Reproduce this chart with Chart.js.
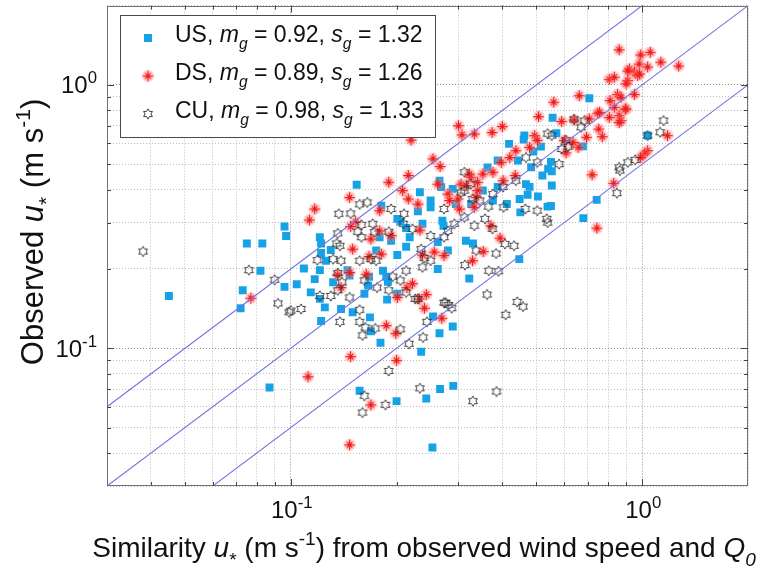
<!DOCTYPE html>
<html><head><meta charset="utf-8">
<script src="https://cdn.jsdelivr.net/npm/chart.js@4/dist/chart.umd.min.js"></script>
<style>html,body{margin:0;padding:0;background:#fff}</style>
</head><body>
<canvas id="c" width="764" height="571"></canvas>
<script>
// ---------------- data ----------------
const xRange = [0.03, 2];
const yRange = [0.03, 2];
const gridValues = [0.03,0.04,0.05,0.06,0.07,0.08,0.09,0.1,0.2,0.3,0.4,0.5,0.6,0.7,0.8,0.9,1,2];
const decadeLabels = {'-1': ['10', '-1'], '0': ['10', '0']};
const refFactors = [2, 1, 0.5];
const legendEntries = [
  {name: 'US', m: '0.92', s: '1.32'},
  {name: 'DS', m: '0.89', s: '1.26'},
  {name: 'CU', m: '0.98', s: '1.33'}
];
const usData = [
[0.045,0.158],[0.075,0.25],[0.083,0.25],[0.096,0.29],[0.097,0.267],[0.082,0.197],[0.096,0.171],[0.073,0.166],
[0.072,0.142],[0.125,0.143],[0.122,0.127],[0.139,0.141],[0.15,0.137],[0.087,0.071],[0.157,0.069],[0.18,0.105],
[0.169,0.116],[0.265,0.114],[0.289,0.121],[0.235,0.097],[0.2,0.063],[0.243,0.0645],[0.266,0.07],[0.29,0.072],
[0.253,0.042],[0.254,0.132],[0.742,0.366],[0.68,0.312],[0.447,0.218],[0.553,0.415],[0.538,0.345],[0.55,0.347],
[0.505,0.377],[0.472,0.383],[0.45,0.328],[0.467,0.42],[0.154,0.418],[0.121,0.264],[0.122,0.25],[0.122,0.23],
[0.13,0.236],[0.109,0.201],[0.121,0.198],[0.117,0.183],[0.104,0.175],[0.114,0.163],[0.121,0.154],[0.132,0.178],
[0.168,0.131],[0.145,0.198],[0.147,0.189],[0.167,0.187],[0.166,0.173],[0.162,0.161],[0.183,0.197],[0.187,0.187],
[0.189,0.179],[0.188,0.153],[0.201,0.161],[0.175,0.235],[0.179,0.264],[0.181,0.348],[0.193,0.256],[0.201,0.31],
[0.205,0.303],[0.213,0.286],[0.218,0.264],[0.213,0.243],[0.201,0.226],[0.23,0.331],[0.233,0.391],[0.25,0.364],
[0.265,0.433],[0.268,0.409],[0.237,0.297],[0.262,0.253],[0.28,0.235],[0.262,0.2],[0.272,0.292],[0.289,0.403],
[0.295,0.353],[0.315,0.256],[0.33,0.25],[0.322,0.184],[0.27,0.305],[0.326,0.353],[0.707,0.89],[0.556,0.75],
[0.462,0.642],[0.46,0.62],[0.57,0.655],[0.418,0.597],[0.678,0.584],[0.49,0.558],[0.388,0.516],[0.515,0.583],
[0.55,0.51],[0.363,0.486],[1.036,0.642],[0.25,0.343],[0.483,0.487],[0.443,0.516],[0.478,0.41],[0.54,0.48],
[0.52,0.453],[0.448,0.369],[0.553,0.47],[0.352,0.397],[0.388,0.41],[0.376,0.364],[0.412,0.353],[0.126,0.215]
];
const dsData = [
[0.077,0.155],[0.112,0.078],[0.148,0.093],[0.169,0.061],[0.147,0.043],[0.187,0.122],[0.199,0.114],[0.2,0.09],
[0.269,0.13],[0.24,0.142],[0.243,0.16],[0.232,0.154],[0.214,0.17],[0.72,0.456],[0.83,0.423],[0.743,0.286],
[0.353,0.233],[0.394,0.262],[0.371,0.292],[0.19,0.427],[0.147,0.374],[0.117,0.338],[0.113,0.307],[0.208,0.397],
[0.216,0.369],[0.179,0.333],[0.153,0.302],[0.148,0.29],[0.15,0.238],[0.169,0.26],[0.167,0.223],[0.147,0.194],
[0.136,0.19],[0.139,0.17],[0.164,0.191],[0.201,0.156],[0.233,0.281],[0.237,0.226],[0.256,0.232],[0.273,0.225],
[0.329,0.215],[0.216,0.453],[0.23,0.353],[0.28,0.385],[0.299,0.369],[0.305,0.42],[0.326,0.446],[0.34,0.397],
[0.333,0.343],[0.193,0.268],[0.181,0.228],[0.179,0.279],[0.222,0.176],[0.262,0.42],[0.86,1.36],[0.99,1.3],
[1.054,1.33],[1.13,1.22],[1.27,1.18],[0.98,1.2],[1.036,1.17],[0.92,1.15],[0.95,1.12],[0.91,1.04],
[0.97,1.085],[0.806,1.05],[0.833,1.07],[0.9,1.01],[0.85,0.92],[0.95,0.92],[0.87,0.897],[0.9,0.81],
[0.833,0.822],[0.86,0.765],[0.87,0.732],[0.747,0.78],[0.806,0.753],[0.752,0.68],[0.77,0.636],[0.707,0.743],
[0.662,0.91],[0.56,0.86],[0.507,0.758],[0.59,0.727],[0.4,0.695],[0.374,0.66],[0.64,0.736],[0.694,0.633],
[1.18,0.642],[1.036,0.563],[1.013,0.547],[0.99,0.53],[0.3,0.7],[0.307,0.646],[0.333,0.651],[0.254,0.524],
[0.266,0.49],[0.322,0.459],[0.437,0.563],[0.494,0.642],[0.657,0.58],[0.478,0.58],[0.6,0.616],[0.635,0.605],
[0.756,0.787],[0.81,0.872],[0.895,0.81],[0.86,0.72],[0.983,1.1],[0.91,1.13],[0.22,0.618],[0.34,0.427],
[0.352,0.459],[0.376,0.466],[0.397,0.508],[0.42,0.53],[0.435,0.453],[0.402,0.433],[0.607,0.552],[0.503,0.616],
[0.337,0.374],[0.316,0.415],[0.283,0.364],[0.302,0.338]
];
const cuData = [
[0.038,0.233],[0.076,0.198],[0.09,0.182],[0.092,0.148],[0.099,0.137],[0.1,0.139],[0.107,0.141],[0.138,0.126],
[0.162,0.066],[0.16,0.057],[0.157,0.126],[0.163,0.12],[0.16,0.112],[0.174,0.119],[0.205,0.118],[0.217,0.104],
[0.238,0.11],[0.244,0.126],[0.19,0.082],[0.186,0.061],[0.233,0.0705],[0.33,0.063],[0.362,0.16],[0.409,0.134],
[0.441,0.15],[0.458,0.144],[0.385,0.0685],[0.273,0.149],[0.281,0.146],[0.287,0.142],[0.226,0.154],[0.847,0.388],
[0.864,0.473],[0.407,0.249],[0.432,0.245],[0.384,0.229],[0.366,0.197],[0.39,0.196],[0.465,0.338],[0.503,0.333],
[0.535,0.31],[0.538,0.3],[0.357,0.31],[0.375,0.284],[0.403,0.343],[0.165,0.358],[0.157,0.352],[0.137,0.324],
[0.148,0.325],[0.159,0.294],[0.155,0.277],[0.159,0.264],[0.138,0.245],[0.171,0.297],[0.173,0.276],[0.193,0.338],
[0.21,0.324],[0.209,0.297],[0.222,0.284],[0.19,0.277],[0.132,0.218],[0.139,0.215],[0.157,0.215],[0.169,0.218],
[0.175,0.215],[0.162,0.181],[0.14,0.178],[0.136,0.166],[0.13,0.158],[0.121,0.158],[0.147,0.156],[0.157,0.14],
[0.176,0.17],[0.19,0.166],[0.195,0.187],[0.205,0.181],[0.213,0.197],[0.213,0.163],[0.23,0.154],[0.24,0.22],
[0.235,0.238],[0.25,0.215],[0.237,0.203],[0.25,0.267],[0.28,0.279],[0.273,0.264],[0.292,0.297],[0.312,0.314],
[0.333,0.292],[0.337,0.235],[0.313,0.207],[0.276,0.149],[0.312,0.466],[0.325,0.42],[0.305,0.39],[0.329,0.369],
[0.273,0.338],[1.15,0.732],[1.125,0.661],[1.036,0.642],[0.955,0.519],[0.91,0.508],[0.86,0.486],[0.64,0.74],
[0.685,0.732],[0.67,0.69],[0.538,0.653],[0.607,0.616],[0.59,0.571],[0.58,0.5],[0.467,0.53],[0.365,0.345],
[0.312,0.397],[0.503,0.508],[0.553,0.642],[0.615,0.583],[0.345,0.364],[0.376,0.385],[0.402,0.41],[0.437,0.433],
[0.136,0.193],[0.135,0.25],[0.136,0.273],[0.119,0.216]
];

// ---------------- styling helpers ----------------
const FONT = '"Liberation Sans", Arial, Helvetica, sans-serif';
const US_COLOR = '#16a2e6';

function makeStar() {
  const c = document.createElement('canvas'); c.width = 17; c.height = 17;
  const g = c.getContext('2d'); const m = 8.5;
  g.fillStyle = 'rgba(255,135,135,0.36)';
  g.beginPath(); g.arc(m, m, 6.2, 0, Math.PI * 2); g.fill();
  g.strokeStyle = '#f01c1c'; g.lineWidth = 1.25; g.lineCap = 'round';
  for (let k = 0; k < 4; k++) {
    const a = k * Math.PI / 4, r = k % 2 ? 3.5 : 4.8;
    g.beginPath(); g.moveTo(m - r * Math.cos(a), m - r * Math.sin(a)); g.lineTo(m + r * Math.cos(a), m + r * Math.sin(a)); g.stroke();
  }
  return c;
}
function makeHex() {
  const c = document.createElement('canvas'); c.width = 14; c.height = 14;
  const g = c.getContext('2d'); const m = 7, R = 5.1, r = R / Math.sqrt(3);
  g.strokeStyle = 'rgba(55,55,55,0.95)'; g.lineWidth = 1;
  g.beginPath();
  for (let k = 0; k < 12; k++) {
    const a = -Math.PI / 2 + k * Math.PI / 6, rr = k % 2 ? r : R;
    const px = m + rr * Math.cos(a), py = m + rr * Math.sin(a);
    k ? g.lineTo(px, py) : g.moveTo(px, py);
  }
  g.closePath(); g.stroke();
  return c;
}
const starImg = makeStar();
const hexImg = makeHex();

const toPts = arr => arr.map(([x, y]) => ({x, y}));
const decadeOf = v => { const l = Math.log10(v); return Math.abs(l - Math.round(l)) < 1e-6 ? Math.round(l) : null; };

function drawRich(ctx, parts, x, y, size, align) {
  const segs = parts.map(p => {
    const s = (p.sub || p.sup) ? size * (p.scale || 0.68) : size;
    const font = (p.it ? 'italic ' : '') + s.toFixed(1) + 'px ' + FONT;
    ctx.font = font;
    return {p, font, w: ctx.measureText(p.t).width};
  });
  const total = segs.reduce((a, s) => a + s.w, 0);
  let cx = align === 'center' ? x - total / 2 : (align === 'right' ? x - total : x);
  ctx.textAlign = 'left'; ctx.textBaseline = 'alphabetic';
  segs.forEach(s => {
    ctx.font = s.font;
    const dy = s.p.sub ? size * 0.32 : (s.p.sup ? -size * (s.p.rise || 0.42) : 0);
    ctx.fillText(s.p.t, cx, y + dy);
    cx += s.w;
  });
}

// decade tick labels (10 with superscript exponent) placed from the scales' own tick positions
function tickParts(v) {
  const d = decadeOf(v); const lab = d !== null ? decadeLabels[String(d)] : null;
  return lab ? [{t: lab[0]}, {t: lab[1], sup: 1, scale: 0.7, rise: 0.42}] : null;
}

const framePlugin = {
  id: 'frame',
  afterDatasetsDraw(chart) {
    const {ctx, chartArea: a, scales} = chart;
    ctx.save();
    ctx.strokeStyle = '#727272'; ctx.lineWidth = 1;
    ctx.strokeRect(Math.round(a.left) + 0.5, Math.round(a.top) + 0.5, Math.round(a.right - a.left) - 1, Math.round(a.bottom - a.top) - 1);
    ctx.strokeStyle = '#444';
    ctx.beginPath();
    gridValues.forEach(v => {
      const major = decadeOf(v) !== null; const L = major ? 7 : 4;
      if (v > xRange[0] && v < xRange[1]) {
        const px = Math.round(scales.x.getPixelForValue(v)) + 0.5;
        ctx.moveTo(px, a.bottom); ctx.lineTo(px, a.bottom - L);
        ctx.moveTo(px, a.top); ctx.lineTo(px, a.top + L);
      }
      if (v > yRange[0] && v < yRange[1]) {
        const py = Math.round(scales.y.getPixelForValue(v)) + 0.5;
        ctx.moveTo(a.left, py); ctx.lineTo(a.left + L, py);
        ctx.moveTo(a.right, py); ctx.lineTo(a.right - L, py);
      }
    });
    ctx.stroke();
    ctx.restore();
  },
  afterDraw(chart) {
    const {ctx, chartArea: a, scales} = chart;
    ctx.save();
    // tick labels
    ctx.fillStyle = '#111';
    scales.x.ticks.forEach(t => {
      const p = tickParts(t.value); if (!p) return;
      drawRich(ctx, p, scales.x.getPixelForValue(t.value) + 1, a.bottom + 32, 24, 'center');
    });
    scales.y.ticks.forEach(t => {
      const p = tickParts(t.value); if (!p) return;
      drawRich(ctx, p, a.left - 10, scales.y.getPixelForValue(t.value) + 8.5, 24, 'right');
    });
    // legend
    ctx.fillStyle = '#fff'; ctx.fillRect(120.5, 15.5, 315, 122);
    ctx.strokeStyle = '#4a4a4a'; ctx.lineWidth = 1; ctx.strokeRect(120.5, 15.5, 315, 122);
    const rows = [42, 80, 118];
    legendEntries.forEach((e, i) => {
      const yb = rows[i], mx = 148, my = yb - 4;
      if (i === 0) { ctx.fillStyle = US_COLOR; ctx.fillRect(mx - 4, my - 4, 8, 8); }
      if (i === 1) ctx.drawImage(starImg, mx - 8.5, my - 8.5);
      if (i === 2) ctx.drawImage(hexImg, mx - 7, my - 7);
      ctx.fillStyle = '#111';
      drawRich(ctx, [
        {t: e.name + ', '}, {t: 'm', it: 1}, {t: 'g', it: 1, sub: 1}, {t: ' = ' + e.m + ', '},
        {t: 's', it: 1}, {t: 'g', it: 1, sub: 1}, {t: ' = ' + e.s}
      ], 175, yb, 23, 'left');
    });
    // axis titles
    ctx.fillStyle = '#111';
    drawRich(ctx, [
      {t: 'Similarity '}, {t: 'u', it: 1}, {t: '*', sub: 1}, {t: ' (m s'}, {t: '-1', sup: 1},
      {t: ') from observed wind speed and '}, {t: 'Q', it: 1}, {t: '0', it: 1, sub: 1}
    ], 424, 557, 28, 'center');
    ctx.save();
    ctx.translate(43, 232); ctx.rotate(-Math.PI / 2);
    drawRich(ctx, [
      {t: 'Observed '}, {t: 'u', it: 1}, {t: '*', sub: 1}, {t: ' (m s'}, {t: '-1', sup: 1}, {t: ')'}
    ], 0, 0, 31, 'center');
    ctx.restore();
    ctx.restore();
  }
};

const gridColor = ctx => (ctx.tick && decadeOf(ctx.tick.value) !== null) ? '#8e8e8e' : '#bdbdbd';
const setTicks = scale => { scale.ticks = gridValues.map(v => ({value: v, major: decadeOf(v) !== null})); };

const refDatasets = refFactors.map(f => ({
  type: 'line',
  data: [{x: xRange[0], y: f * xRange[0]}, {x: xRange[1], y: f * xRange[1]}],
  borderColor: 'rgb(115,115,228)', borderWidth: 1.1, pointRadius: 0, fill: false, order: 0
}));

new Chart(document.getElementById('c'), {
  data: {
    datasets: [
      ...refDatasets,
      {type: 'scatter', label: 'CU', data: toPts(cuData), pointStyle: hexImg, order: 1},
      {type: 'scatter', label: 'DS', data: toPts(dsData), pointStyle: starImg, order: 2},
      {type: 'scatter', label: 'US', data: toPts(usData), pointStyle: 'rect', pointRadius: 5.6,
       backgroundColor: US_COLOR, borderWidth: 0, order: 3}
    ]
  },
  options: {
    responsive: false, animation: false, devicePixelRatio: 1, events: [],
    layout: {padding: {top: 5, right: 16, left: 0, bottom: 0}},
    plugins: {legend: {display: false}, tooltip: {enabled: false}},
    scales: {
      x: {
        type: 'logarithmic', position: 'bottom', min: xRange[0], max: xRange[1],
        afterBuildTicks: setTicks,
        afterFit: s => { s.height = 85; },
        grid: {color: gridColor, lineWidth: 1, drawTicks: false},
        border: {display: false, dash: [1, 2]},
        ticks: {autoSkip: false, maxRotation: 0, display: false}
      },
      y: {
        type: 'logarithmic', position: 'left', min: yRange[0], max: yRange[1],
        afterBuildTicks: setTicks,
        afterFit: s => { s.width = 107; },
        grid: {color: gridColor, lineWidth: 1, drawTicks: false},
        border: {display: false, dash: [1, 2]},
        ticks: {autoSkip: false, display: false}
      }
    }
  },
  plugins: [framePlugin]
});
</script>
</body></html>
